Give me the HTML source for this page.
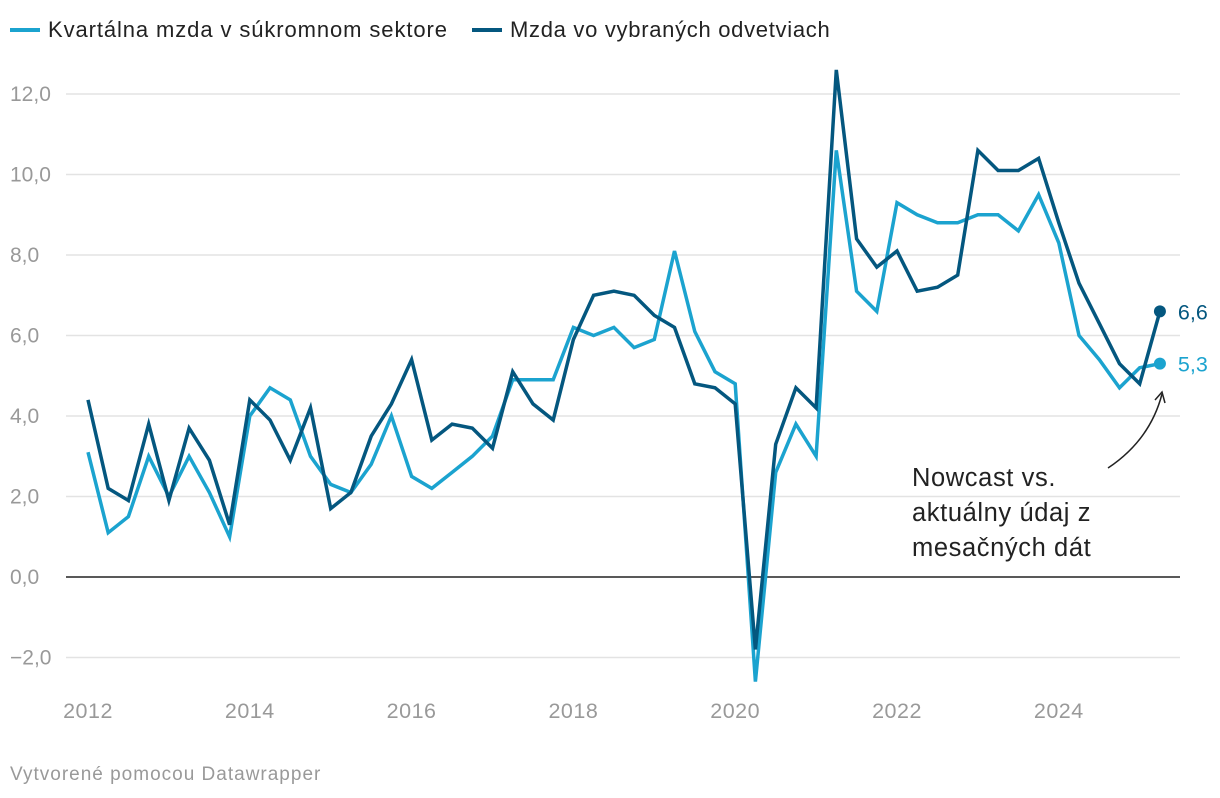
<!DOCTYPE html>
<html><head><meta charset="utf-8"><style>
body{margin:0;background:#fff;font-family:"Liberation Sans",sans-serif}
svg{display:block}
</style></head><body>
<svg id="chart" width="1220" height="798" font-family="Liberation Sans, sans-serif">
<g>
<g><rect x="10" y="28" width="30" height="4" fill="#1ba3cf"/><text x="48" y="37" font-size="22" letter-spacing="0.9" fill="#222">Kvartálna mzda v súkromnom sektore</text></g>
<g><rect x="472" y="28" width="30" height="4" fill="#04577f"/><text x="510" y="37" font-size="22" letter-spacing="0.7" fill="#222">Mzda vo vybraných odvetviach</text></g>
</g>
<g id="grid"></g>
<g id="series"></g>
<g>
<text font-size="25.5" fill="#222" letter-spacing="0.6"><tspan x="912" y="486">Nowcast vs.</tspan><tspan x="912" y="521">aktuálny údaj z</tspan><tspan x="912" y="556">mesačných dát</tspan></text>
<path d="M1108,468 Q1150,440 1162,394" fill="none" stroke="#222" stroke-width="1.5"/>
<path d="M1155,400 L1162,392 L1165,403" fill="none" stroke="#222" stroke-width="1.5"/>
</g>
<text x="10" y="780" font-size="19" letter-spacing="1" fill="#999">Vytvorené pomocou Datawrapper</text>
</svg>
<script>
const yTicks=[-2,0,2,4,6,8,10,12];
const yTickLabels=["−2,0","0,0","2,0","4,0","6,0","8,0","10,0","12,0"];
const xTicks=[2012,2014,2016,2018,2020,2022,2024];
const startYear=2012;
const privateSector=[3.1,1.1,1.5,3.0, 2.0,3.0,2.1,1.0, 4.0,4.7,4.4,3.0, 2.3,2.1,2.8,4.0, 2.5,2.2,2.6,3.0, 3.5,4.9,4.9,4.9, 6.2,6.0,6.2,5.7, 5.9,8.1,6.1,5.1, 4.8,-2.6,2.6,3.8, 3.0,10.6,7.1,6.6, 9.3,9.0,8.8,8.8, 9.0,9.0,8.6,9.5, 8.3,6.0,5.4,4.7, 5.2,5.3];
const selectedSectors=[4.4,2.2,1.9,3.8, 1.9,3.7,2.9,1.3, 4.4,3.9,2.9,4.2, 1.7,2.1,3.5,4.3, 5.4,3.4,3.8,3.7, 3.2,5.1,4.3,3.9, 5.9,7.0,7.1,7.0, 6.5,6.2,4.8,4.7, 4.3,-1.8,3.3,4.7, 4.2,12.6,8.4,7.7, 8.1,7.1,7.2,7.5, 10.6,10.1,10.1,10.4, 8.8,7.3,6.3,5.3, 4.8,6.6];
const endLabels=["5,3","6,6"];

const NS="http://www.w3.org/2000/svg";
const y=v=>577-v*40.25;
const x=t=>88+(t-startYear)*80.9;
const xi=i=>x(startYear+i/4);
const grid=document.getElementById('grid');
function mk(tag,attrs,parent){const e=document.createElementNS(NS,tag);for(const k in attrs)e.setAttribute(k,attrs[k]);parent.appendChild(e);return e;}
yTicks.forEach((v,i)=>{
  const l=mk('line',{x1:66,x2:1180,y1:y(v),y2:y(v),stroke:v===0?'#222':'#e3e3e3','stroke-width':1.5},grid);
  
  
  const t=mk('text',{x:10,y:y(v)+7,'font-size':21,fill:'#999'},grid);
  t.textContent=yTickLabels[i];
  
  
});
xTicks.forEach(v=>{
  const t=mk('text',{x:x(v),y:718,'font-size':21.5,fill:'#999','text-anchor':'middle','letter-spacing':0.5},grid);
  t.textContent=v;
  
  
});
const ser=document.getElementById('series');
[[privateSector,'#1ba3cf','line-private-sector',endLabels[0]],[selectedSectors,'#04577f','line-selected-sectors',endLabels[1]]].forEach(([d,c,n,lab])=>{
  const p=mk('path',{d:d.map((v,i)=>(i?'L':'M')+xi(i).toFixed(1)+','+y(v).toFixed(1)).join(''),fill:'none',stroke:c,'stroke-width':3.5,'stroke-linejoin':'miter'},ser);
  
  
  const last=d.length-1;
  const dot=mk('circle',{cx:xi(last),cy:y(d[last]),r:6,fill:c},ser);
  
  
  const t=mk('text',{x:xi(last)+18,y:y(d[last])+8,'font-size':21.5,fill:c},ser);
  t.textContent=lab;
  
  
});
</script>
</body></html>
